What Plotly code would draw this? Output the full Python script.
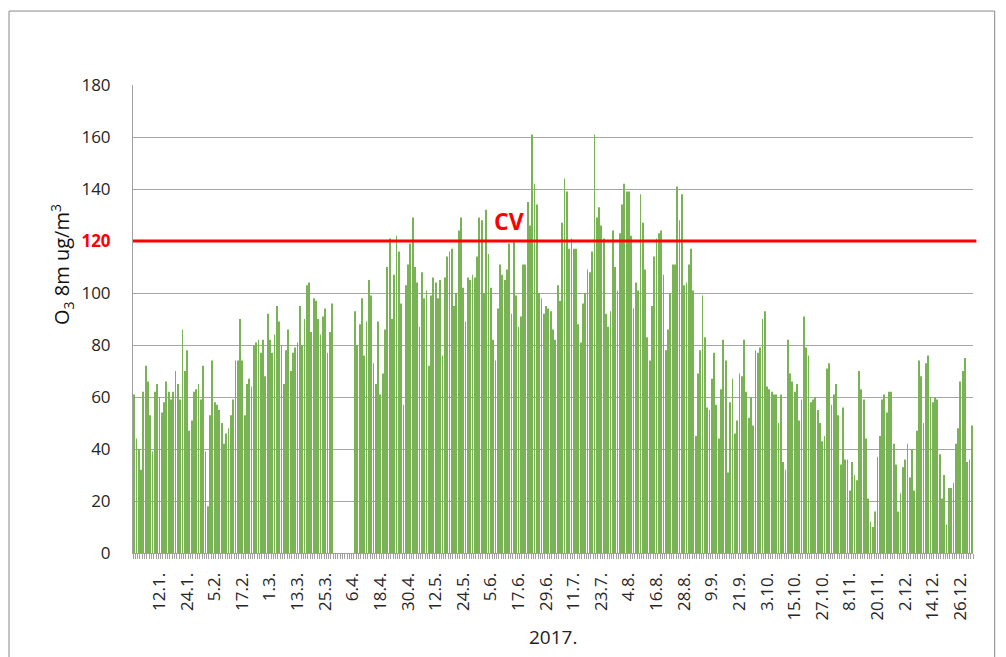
import plotly.graph_objects as go

# daily O3 8h max, 2017 (ug/m3) - None = no data
jan = [61, 44, 40, 32, 62, 72, 66, 53, 39, 62, 65, 60, 54, 58, 66, 62, 59, 62, 70, 65,
       59, 86, 70, 78, 47, 51, 62, 63, 65, 59, 72]
feb = [39, 18, 53, 74, 58, 57, 55, 50, 42, 46, 48, 53, 59, 74, 74, 90, 74, 53, 65, 67,
       64, 80, 81, 82, 77, 82, 68, 92]
mar = [82, 77, 84, 95, 89, 80, 65, 78, 86, 70, 77, 79, 81, 95, 80, 90, 103, 104, 85, 98,
       97, 90, 84, 91, 94, 77, 85, 96, None, None, None]
apr = [None, None, None, None, None, None, 93, 80, 88, 98, 76, 89, 105, 99, 73, 65, 89, 61,
       69, 86, 110, 121, 90, 107, 122, 116, 96, 57, 103, 111]
may = [119, 129, 110, 104, 87, 108, 98, 101, 72, 99, 106, 104, 98, 105, 76, 106, 114, 116,
       117, 95, 100, 124, 129, 102, 89, 106, 105, 107, 106, 114, 129]
jun = [128, 100, 132, 115, 102, 82, 74, 94, 111, 107, 105, 109, 119, 92, 120, 99, 87, 91,
       111, 111, 135, 126, 161, 142, 134, 100, 98, 92, 95, 94]
jul = [93, 86, 82, 103, 97, 127, 144, 139, 117, 121, 117, 117, 88, 81, 96, 100, 109, 108,
       116, 161, 129, 133, 126, 121, 92, 87, 93, 124, 110, 101, 123]
aug = [134, 142, 139, 139, 122, 94, 104, 101, 138, 127, 109, 83, 74, 95, 114, 121, 123, 124,
       107, 78, 86, 100, 111, 111, 141, 128, 138, 103, 104, 111, 117]
sep = [101, 45, 69, 78, 99, 83, 56, 55, 67, 77, 57, 44, 63, 82, 74, 31, 58, 67, 46, 51,
       69, 68, 82, 62, 52, 60, 49, 78, 77, 79]
oct_ = [90, 93, 64, 63, 62, 61, 61, 50, 61, 35, 32, 82, 69, 66, 62, 65, 51, 59, 91, 79,
        76, 58, 59, 60, 55, 50, 43, 45, 71, 73, 57]
nov = [61, 65, 53, 34, 56, 36, 36, 24, 35, 30, 28, 70, 63, 59, 44, 21, 12, 10, 16, 37,
       45, 59, 61, 54, 62, 62, 42, 34, 16, 23]
dec = [33, 36, 42, 29, 40, 24, 47, 74, 68, 50, 73, 76, 60, 58, 60, 59, 38, 21, 30, 11,
       25, 25, 27, 42, 48, 66, 70, 75, 35, 36, 49]

CV = 120

tick_labels = ['12.1.', '24.1.', '5.2.', '17.2.', '1.3.', '13.3.', '25.3.', '6.4.', '18.4.',
               '30.4.', '12.5.', '24.5.', '5.6.', '17.6.', '29.6.', '11.7.', '23.7.', '4.8.',
               '16.8.', '28.8.', '9.9.', '21.9.', '3.10.', '15.10.', '27.10.', '8.11.',
               '20.11.', '2.12.', '14.12.', '26.12.']
y_ticks = [0, 20, 40, 60, 80, 100, 120, 140, 160, 180]

values = jan + feb + mar + apr + may + jun + jul + aug + sep + oct_ + nov + dec
days = list(range(len(values)))
tick_pos = [11 + 12 * i for i in range(len(tick_labels))]

y_text = []
for v in y_ticks:
    if v == CV:
        y_text.append("<span style='color:#FF0000'><b>%d</b></span>" % v)
    else:
        y_text.append(str(v))

fig = go.Figure()
fig.add_trace(go.Bar(x=days, y=values, marker=dict(color='#7AB356', line=dict(width=0)),
                     hoverinfo='x+y'))

# page body has an 8px margin, so the plot box is shifted back by 8px
fig.update_layout(
    width=1006, height=657,
    margin=dict(l=125, r=41, t=77, b=112),
    plot_bgcolor='white', paper_bgcolor='white',
    bargap=0.64, showlegend=False,
    font=dict(family='Open Sans', color='#333333'),
)
fig.update_xaxes(
    range=[-0.5, 364.5], tickmode='array', tickvals=tick_pos, ticktext=tick_labels,
    tickangle=-90, ticks='', showgrid=False, zeroline=False,
    showline=True, linecolor='#A0A0A0', linewidth=1,
    tickfont=dict(size=17, color='#262626'), ticklabelstandoff=12,
    minor=dict(tickmode='linear', tick0=-0.5, dtick=1, ticks='outside', ticklen=5,
               tickcolor='#A0A0A0', showgrid=False),
)
fig.update_yaxes(
    range=[0, 180], tickmode='array', tickvals=y_ticks, ticktext=y_text,
    showgrid=True, gridcolor='#A6A6A6', gridwidth=1, zeroline=False,
    showline=True, linecolor='#A0A0A0', ticks='',
    tickfont=dict(size=17, color='#262626'), ticklabelstandoff=18,
)

# limit value line
fig.add_shape(type='line', xref='paper', yref='y', x0=0, x1=1.004, y0=CV, y1=CV,
              line=dict(color='#FF0000', width=3))
# chart area border
fig.add_shape(type='rect', xref='paper', yref='paper', x0=-0.1476, x1=1.0258,
              y0=-0.24, y1=1.158, line=dict(color='#888888', width=1))

fig.add_annotation(x=163, y=CV, xref='x', yref='y', text='<b>CV</b>', showarrow=False,
                   yanchor='bottom', yshift=2, font=dict(size=23, color='#FF0000'))
fig.add_annotation(x=-0.106, y=0.6175, xref='paper', yref='paper', textangle=-90,
                   text='O<sub>3</sub> 8m ug/m<sup>3</sup>', showarrow=False,
                   font=dict(size=20, color='#111111'))
fig.add_annotation(x=0.5, y=-0.1795, xref='paper', yref='paper', text='2017.',
                   showarrow=False, yanchor='middle', font=dict(size=19, color='#222222'))

fig.write_html("out.html")
